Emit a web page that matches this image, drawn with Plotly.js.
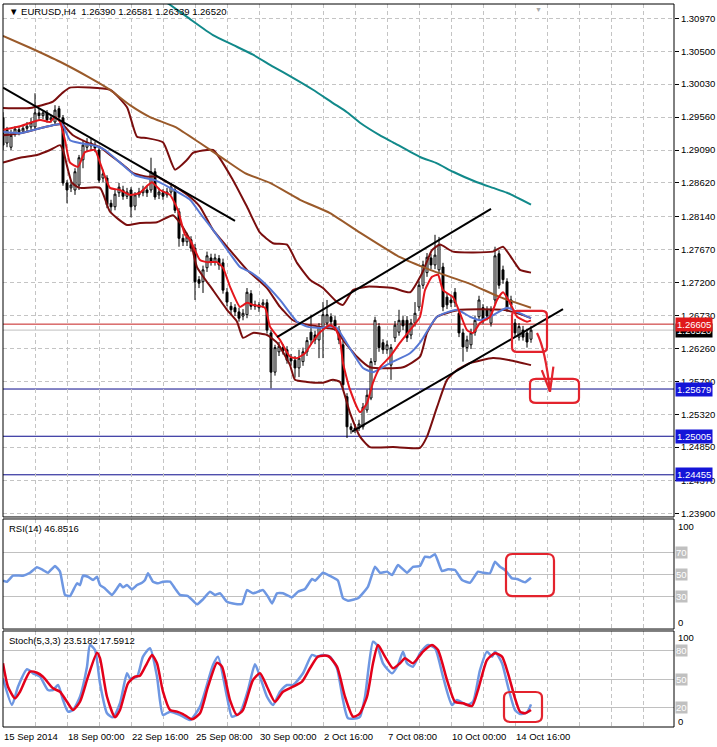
<!DOCTYPE html>
<html>
<head>
<meta charset="utf-8">
<script src="https://cdn.plot.ly/plotly-3.0.1.min.js"></script>
<style>html,body{margin:0;padding:0;background:#fff;}#chart{width:717px;height:747px;}</style>
</head>
<body>
<div id="chart"></div>
<script>
// ---------- DATA ----------
const symbolTitle = "▼ EURUSD,H4  1.26390 1.26581 1.26339 1.26520";
const rsiTitle = "RSI(14) 46.8516";
const stochTitle = "Stoch(5,3,3) 23.5182 17.5912";

// time axis: bar index -> label
const timeTickBars = [0, 16, 32, 48, 64, 80, 96, 112, 128];
const timeTickLabels = ["15 Sep 2014", "18 Sep 00:00", "22 Sep 16:00", "25 Sep 08:00", "30 Sep 00:00", "2 Oct 16:00", "7 Oct 08:00", "10 Oct 00:00", "14 Oct 16:00"];

const priceTicks = [1.30970,1.30500,1.30030,1.29560,1.29090,1.28620,1.28140,1.27670,1.27200,1.26730,1.26260,1.25790,1.25320,1.24850,1.24370,1.23900];

const open = [
1.2955,1.2919,1.2913,1.2933,1.2938,1.2936,1.2940,1.2942,1.2942,1.2962,
1.2958,1.2962,1.2952,1.2949,1.2968,1.2955,1.2862,1.2855,1.2852,1.2859,
1.2895,1.2913,1.2919,1.2915,1.2909,1.2869,1.2869,1.2833,1.2828,1.2848,
1.2852,1.2843,1.2852,1.2829,1.2845,1.2848,1.2852,1.2852,1.2878,1.2845,
1.2848,1.2845,1.2849,1.2852,1.2821,1.2783,1.2778,1.2781,1.2769,1.2724,
1.2721,1.2741,1.2755,1.2749,1.2754,1.2748,1.2706,1.2686,1.2684,1.2678,
1.2672,1.2674,1.2704,1.2686,1.2684,1.2688,1.2691,1.2648,1.2592,1.2621,
1.2627,1.2624,1.2612,1.2609,1.2598,1.2607,1.2621,1.2649,1.2645,1.2638,
1.2655,1.2662,1.2671,1.2666,1.2652,1.2631,1.2557,1.2514,1.2510,1.2512,
1.2514,1.2538,1.2555,1.2607,1.2657,1.2634,1.2624,1.2602,1.2641,1.2649,
1.2666,1.2666,1.2645,1.2662,1.2685,1.2716,1.2734,1.2755,1.2745,1.2738,
1.2742,1.2699,1.2695,1.2706,1.2676,1.2648,1.2627,1.2631,1.2649,1.2671,
1.2684,1.2681,1.2662,1.2695,1.2761,1.2738,1.2721,1.2695,1.2662,1.2642,
1.2652,1.2648,1.26390];
const high = [
1.2963,1.2942,1.2938,1.2943,1.2942,1.2945,1.2949,1.2955,1.2990,1.2969,
1.2966,1.2966,1.2959,1.2973,1.2972,1.2959,1.2866,1.2866,1.2883,1.2902,
1.2923,1.2926,1.2926,1.2921,1.2915,1.2881,1.2873,1.2838,1.2852,1.2862,
1.2858,1.2855,1.2856,1.2849,1.2855,1.2858,1.2858,1.2898,1.2883,1.2855,
1.2853,1.2855,1.2862,1.2858,1.2826,1.2789,1.2791,1.2786,1.2775,1.2729,
1.2744,1.2764,1.2761,1.2761,1.2759,1.2754,1.2712,1.2692,1.2689,1.2684,
1.2682,1.2712,1.2709,1.2694,1.2692,1.2696,1.2696,1.2652,1.2631,1.2635,
1.2632,1.2629,1.2618,1.2615,1.2624,1.2627,1.2642,1.2674,1.2651,1.2662,
1.2692,1.2695,1.2676,1.2672,1.2658,1.2637,1.2562,1.2519,1.2518,1.2524,
1.2548,1.2567,1.2612,1.2671,1.2662,1.2639,1.2637,1.2632,1.2665,1.2681,
1.2672,1.2672,1.2668,1.2692,1.2722,1.2751,1.2762,1.2761,1.2788,1.2785,
1.2748,1.2705,1.2701,1.2712,1.2682,1.2654,1.2644,1.2654,1.2672,1.2701,
1.2689,1.2686,1.2686,1.2771,1.2766,1.2744,1.2726,1.2701,1.2668,1.2662,
1.2658,1.2654,1.26581];
const low = [
1.2909,1.2913,1.2909,1.2928,1.2930,1.2933,1.2936,1.2938,1.2938,1.2952,
1.2953,1.2948,1.2948,1.2945,1.2952,1.2858,1.2833,1.2849,1.2845,1.2852,
1.2883,1.2906,1.2909,1.2906,1.2862,1.2863,1.2826,1.2821,1.2823,1.2842,
1.2838,1.2839,1.2813,1.2823,1.2841,1.2843,1.2842,1.2848,1.2838,1.2839,
1.2838,1.2841,1.2845,1.2819,1.2771,1.2772,1.2772,1.2764,1.2695,1.2712,
1.2705,1.2735,1.2744,1.2744,1.2738,1.2704,1.2686,1.2675,1.2672,1.2664,
1.2666,1.2669,1.2681,1.2681,1.2678,1.2684,1.2647,1.2569,1.2587,1.2615,
1.2617,1.2604,1.2601,1.2584,1.2585,1.2601,1.2615,1.2631,1.2632,1.2612,
1.2612,1.2657,1.2658,1.2651,1.2632,1.2567,1.2498,1.2504,1.2505,1.2508,
1.2510,1.2534,1.2552,1.2602,1.2621,1.2618,1.2618,1.2581,1.2635,1.2644,
1.2652,1.2635,1.2639,1.2657,1.2679,1.2711,1.2728,1.2739,1.2739,1.2732,
1.2679,1.2682,1.2685,1.2685,1.2642,1.2607,1.2621,1.2625,1.2644,1.2665,
1.2661,1.2666,1.2657,1.2689,1.2711,1.2718,1.2678,1.2682,1.2642,1.2637,
1.2637,1.2627,1.26339];
const close = [
1.2916,1.2938,1.2930,1.2939,1.2935,1.2940,1.2943,1.2948,1.2962,1.2958,
1.2962,1.2952,1.2955,1.2966,1.2956,1.2862,1.2852,1.2859,1.2878,1.2898,
1.2916,1.2919,1.2915,1.2912,1.2866,1.2875,1.2831,1.2828,1.2846,1.2856,
1.2843,1.2849,1.2828,1.2845,1.2849,1.2852,1.2848,1.2878,1.2842,1.2849,
1.2843,1.2849,1.2856,1.2823,1.2783,1.2778,1.2785,1.2769,1.2721,1.2719,
1.2738,1.2758,1.2749,1.2755,1.2745,1.2709,1.2692,1.2681,1.2678,1.2669,
1.2676,1.2706,1.2686,1.2688,1.2688,1.2691,1.2652,1.2592,1.2627,1.2629,
1.2622,1.2609,1.2608,1.2598,1.2612,1.2621,1.2637,1.2638,1.2638,1.2657,
1.2674,1.2674,1.2664,1.2657,1.2638,1.2574,1.2514,1.2510,1.2512,1.2518,
1.2542,1.2559,1.2607,1.2666,1.2627,1.2624,1.2631,1.2627,1.2659,1.2666,
1.2658,1.2641,1.2662,1.2676,1.2716,1.2745,1.2756,1.2745,1.2759,1.2774,
1.2685,1.2688,1.2691,1.2691,1.2648,1.2628,1.2638,1.2648,1.2666,1.2695,
1.2666,1.2672,1.2681,1.2758,1.2716,1.2724,1.2684,1.2688,1.2648,1.2657,
1.2642,1.2635,1.26520];

// indicator lines as [bar, value] pairs
const maTeal = [[36.75,1.3130],[41,1.3119],[46,1.3099],[52.5,1.3073],[57.5,1.3059],[62.5,1.3045],[67.5,1.3028],[72.5,1.3012],[77.5,1.2995],[82.5,1.2976],[86,1.2963],[89.25,1.2948],[94.25,1.2930],[97.5,1.2920],[104.25,1.2899],[108.5,1.2890],[112.5,1.2878],[118.5,1.2863],[122.5,1.2855],[126,1.2848],[132,1.2831]];
const maBrown = [[0,1.3072],[6.75,1.3055],[14.25,1.3035],[21.75,1.3012],[26.75,1.2995],[31.75,1.2973],[36.75,1.2956],[43,1.2942],[49.25,1.2919],[55.5,1.2895],[60.5,1.2876],[66.75,1.2862],[74.25,1.2838],[81.75,1.2819],[89.25,1.2791],[99.25,1.2756],[106.75,1.2738],[116.75,1.2718],[124.25,1.2699],[132,1.2684]];
const maBlue = [[0,1.2935],[4.25,1.2933],[9.25,1.2940],[13,1.2945],[14.75,1.2946],[16.75,1.2923],[19.25,1.2919],[23,1.2915],[25.5,1.2909],[29.25,1.2891],[33,1.2873],[35.5,1.2869],[38,1.2866],[41.75,1.2855],[46.75,1.2838],[49.25,1.2819],[52.5,1.2795],[56.75,1.2761],[59.25,1.2742],[61.75,1.2735],[65,1.2721],[69.25,1.2695],[73.5,1.2664],[76,1.2657],[79.25,1.2655],[81.75,1.2657],[83.5,1.2655],[85,1.2642],[87.5,1.2619],[90,1.2598],[92.5,1.2592],[96.75,1.2605],[101.75,1.2619],[104.25,1.2634],[108.5,1.2671],[113.5,1.2681],[116.75,1.2671],[119.25,1.2666],[121.75,1.2671],[126,1.2684],[128.5,1.2678],[132,1.2669]];
const maRed = [[0,1.2938],[4.25,1.2943],[9.25,1.2952],[11.75,1.2949],[13,1.2956],[14.25,1.2949],[15.5,1.2923],[16.75,1.2891],[18.75,1.2885],[20.5,1.2906],[23,1.2909],[24.25,1.2891],[26.75,1.2855],[29.25,1.2852],[31.75,1.2845],[34.25,1.2848],[36.25,1.2859],[37.25,1.2863],[39.25,1.2852],[41.75,1.2845],[43.75,1.2823],[45.5,1.2788],[46.75,1.2781],[49.25,1.2752],[51,1.2749],[53.5,1.2749],[55,1.2741],[56.75,1.2714],[59.25,1.2685],[61,1.2691],[62.5,1.2688],[65.5,1.2684],[66.75,1.2657],[69.25,1.2638],[71.75,1.2614],[73.5,1.2612],[75.5,1.2619],[77.25,1.2634],[79.25,1.2649],[81.75,1.2659],[83,1.2655],[84.25,1.2638],[85,1.2605],[86.75,1.2567],[89.25,1.2535],[91,1.2548],[92.5,1.2577],[94.25,1.2599],[96.75,1.2614],[99.25,1.2634],[101.75,1.2652],[104.25,1.2671],[105.5,1.2709],[107.25,1.2728],[108.75,1.2731],[110,1.2709],[112.5,1.2699],[114.25,1.2676],[116,1.2652],[117.5,1.2648],[119.25,1.2662],[121.75,1.2671],[123.5,1.2695],[125,1.2706],[126.75,1.2691],[128.5,1.2671],[131,1.2664],[132,1.2666]];
const bbUpper = [[0,1.2969],[6.75,1.2969],[12.5,1.2978],[14.75,1.2990],[16.75,1.2998],[26.75,1.2995],[31,1.2970],[33.5,1.2928],[36,1.2926],[40,1.2920],[43,1.2881],[46,1.2895],[47.5,1.2905],[52.5,1.2909],[57.5,1.2866],[61,1.2828],[64.25,1.2791],[67.5,1.2776],[71,1.2774],[73.5,1.2748],[76.75,1.2724],[80,1.2712],[83.5,1.2692],[85,1.2688],[87.5,1.2709],[91,1.2714],[97.5,1.2712],[101.75,1.2706],[104.75,1.2733],[107.25,1.2766],[109.25,1.2774],[112.5,1.2764],[122.5,1.2764],[125,1.2771],[127.5,1.2752],[129.25,1.2738],[132,1.2734]];
const bbMiddle = [[0,1.2930],[4.25,1.2933],[9.25,1.2940],[13,1.2945],[14.75,1.2946],[17.5,1.2930],[21,1.2920],[24.25,1.2913],[26.75,1.2902],[30,1.2888],[32.5,1.2876],[36,1.2871],[38.5,1.2871],[41,1.2863],[43.5,1.2855],[46.75,1.2842],[49.25,1.2828],[52.5,1.2795],[56.75,1.2766],[61,1.2738],[66,1.2712],[69.25,1.2685],[72.5,1.2666],[74.25,1.2662],[81,1.2655],[83.5,1.2652],[85,1.2638],[88.5,1.2614],[91.75,1.2599],[100,1.2599],[104.25,1.2614],[106,1.2648],[108.5,1.2671],[114.25,1.2681],[125,1.2681],[129.25,1.2675],[132,1.2669]];
const bbLower = [[0,1.2891],[4.25,1.2898],[8.5,1.2902],[11.75,1.2909],[14.25,1.2916],[15,1.2909],[17.25,1.2862],[19.25,1.2855],[24.25,1.2855],[26.75,1.2821],[31,1.2802],[34.25,1.2805],[38.5,1.2806],[42.5,1.2816],[44.25,1.2805],[46.75,1.2781],[48.5,1.2742],[52.5,1.2709],[56,1.2681],[58.5,1.2664],[60,1.2641],[62.5,1.2648],[66,1.2645],[68.5,1.2634],[71.75,1.2602],[73,1.2581],[76,1.2578],[80,1.2577],[82.5,1.2581],[84.25,1.2578],[86.75,1.2534],[89.25,1.2500],[91.75,1.2485],[97.5,1.2485],[104.25,1.2484],[106,1.2500],[108.5,1.2542],[111,1.2581],[113.5,1.2595],[116.75,1.2605],[122.5,1.2612],[126.75,1.2609],[132,1.2602]];

const rsi = [[0,44.2],[1,43.2],[2.5,48.8],[5,48.8],[6.75,51.5],[8.5,56.5],[10,54],[11.25,51.5],[13,57.7],[14.25,52.5],[15.5,31],[16.75,30],[18.5,41.7],[19.25,40],[20,48.8],[21.25,47.8],[22.5,44.8],[23.5,47.8],[24.25,40.2],[25.5,37],[27.25,31],[28.5,37],[29.25,41],[30,38],[31,40.2],[32.25,36.2],[33.5,40.2],[34.75,42.3],[35.5,44.8],[36.25,51],[37.5,43.2],[38.75,41.7],[40,43.2],[41.75,43.2],[43,37],[44.25,31],[46.25,30],[48.5,22.3],[50,27],[51.75,34],[53,31],[54.25,32.5],[56,24.7],[57.5,23.2],[59.75,22.6],[61,35.5],[62.5,32.5],[65,35.5],[66.25,29.4],[67.25,23.2],[68.5,32.5],[70,32.5],[72.25,28.8],[73.75,34],[75.5,36.5],[77.25,45.7],[78,44.2],[80,51.5],[81.75,48.5],[83.75,44.2],[85,27.9],[86.25,25.7],[88.75,27.9],[91.25,38.6],[93,57],[94.25,51.5],[96,52.5],[97.25,49.4],[98.75,58.6],[101,51.5],[102.5,57],[104.25,57.7],[105.5,66.3],[106.75,65.7],[108,68.5],[109.75,53.1],[111.25,54.7],[113,54],[114.75,44.8],[116.75,42.3],[118.75,52.5],[120,51.5],[121.75,51],[123,61.7],[124.25,57],[125.5,54],[127.25,46.3],[128.5,45.7],[130.5,42.7],[132,46.85]];
const stochMain = [[0,51],[2.25,22.9],[3.75,42.2],[6,60.6],[7.5,56.4],[9.25,52.8],[11.25,38.7],[12.5,38.7],[13.75,44],[15,28.1],[16.25,15.8],[17.5,17.6],[19.25,31.6],[21,63.4],[21.75,86.3],[23,81],[24.25,45.8],[26,14.1],[27.5,9.8],[29.25,24.7],[31,56.4],[31.75,51.1],[33.5,52.8],[35,74],[36.75,82.9],[38.5,52.8],[40,12.3],[41.75,15.8],[44.25,12.3],[46.75,7],[49.25,21.1],[52.5,65.2],[53.75,74],[56,31.6],[57.25,10.5],[59.25,14.7],[61.25,38.7],[63,65.9],[64.25,52.8],[66,31.6],[67.5,22.9],[69.25,36.9],[71,44],[72.5,44],[75,56.4],[77.25,75.8],[78.5,74],[79.75,75.8],[81.75,74],[83.5,61.7],[85,28.1],[86.25,8.8],[88.5,8.8],[89.25,10.5],[90.5,31.6],[92.5,89.8],[93.5,86.3],[95,67],[97.25,56.4],[98.75,65.2],[100,79.3],[101,67],[102.5,63.4],[104.25,77.6],[106.25,86.3],[108,82.9],[110,52.8],[112.25,22.9],[113.5,28.1],[116,22.9],[117.5,26.3],[119.25,59.9],[121,79.3],[122.25,74],[123,79.3],[124.75,67],[126.25,42.2],[128,17.6],[129.25,13.3],[131,15.1],[132,23.5]];
const stochSignal = [[0,67],[1.25,42.2],[3,29.9],[4.25,36.9],[6.75,58.1],[8.5,57],[10,52.8],[12.5,40.5],[14.25,36.9],[16,26.3],[17.5,17.6],[19.25,26.3],[21.25,52.8],[23.5,78.2],[24.25,72.3],[26,31.6],[28,9.8],[29.25,17.6],[31.25,45.8],[33,52.8],[34.25,53.9],[36,67],[37.25,75.8],[38.5,67],[40,36.9],[41.75,17.6],[43.5,15.8],[45,13.3],[47.25,7.7],[49.25,14.1],[51.25,42.2],[53.5,67.6],[54.75,63.4],[56.75,28.1],[58.5,12.3],[60,17.6],[62.5,49.3],[64.25,56.4],[66,42.2],[68,26.3],[70,36.9],[72.5,42.2],[74.75,47.5],[76.75,61.7],[78.75,74],[81.25,74.7],[83.5,63.4],[85.5,31.6],[87.5,10.5],[88.75,12.3],[89.25,14.1],[91,31.6],[92.5,67],[93.75,86.3],[95.5,74],[97.5,61.7],[99.25,67],[100.5,72.3],[102.5,67],[105,79.3],[107.25,86.3],[108.75,81],[111,49.3],[113,26.3],[115,24.7],[117.25,21.8],[118.75,38.7],[121,70.5],[123,77.6],[124.75,74],[126.25,56.4],[128,29.9],[129.25,15.8],[130.5,14.1],[132,17.6]];

// drawn objects (bar, price)
const trendLines = [[0,1.2998,58,1.2808],[68.5,1.2642,122,1.2825],[87.25,1.2507,140,1.2682]];
const redLevel = 1.26605;
const bidLevel = 1.26520;
const blueLevels = [1.25679, 1.25005, 1.24455];
const rsiLevels = [70, 50, 30];
const stochLevels = [80, 50, 20];

// ---------- BUILD ----------
const bars = open.map((_, i) => i);
const xs = a => a.map(p => p[0]);
const ys = a => a.map(p => p[1]);

function lineTrace(pts, color, width, yaxis, smooth) {
  return {type:'scatter', mode:'lines', x:xs(pts), y:ys(pts), xaxis:'x', yaxis:yaxis||'y',
    line:{color:color, width:width, shape: smooth ? 'spline' : 'linear', smoothing: smooth || 0},
    hoverinfo:'skip', cliponaxis:true};
}

const traces = [
  {type:'candlestick', x:bars, open:open, high:high, low:low, close:close, xaxis:'x', yaxis:'y',
   increasing:{line:{color:'#000', width:1}, fillcolor:'#ffffff'},
   decreasing:{line:{color:'#000', width:1}, fillcolor:'#000000'},
   whiskerwidth:0, hoverinfo:'skip'},
  lineTrace(bbUpper, '#7a0e0e', 2, 'y', 0.5),
  lineTrace(bbMiddle, '#7a0e0e', 2, 'y', 0.5),
  lineTrace(bbLower, '#7a0e0e', 2, 'y', 0.5),
  lineTrace(maTeal, '#11898a', 2, 'y', 0.5),
  lineTrace(maBrown, '#9a5a2a', 2, 'y', 0.5),
  lineTrace(maBlue, '#5677d4', 2, 'y', 0.5),
  lineTrace(maRed, '#e4161c', 2, 'y', 0.5),
  lineTrace(rsi, '#6e97e2', 2.5, 'y2', 0.4),
  lineTrace(stochMain, '#6e97e2', 2.5, 'y3', 0.6),
  lineTrace(stochSignal, '#e3001a', 2.5, 'y3', 0.6)
];

function roundRect(x0, x1, y0, y1, rx, ry) {
  return `M${x0+rx},${y1} L${x1-rx},${y1} Q${x1},${y1} ${x1},${y1-ry} L${x1},${y0+ry} Q${x1},${y0} ${x1-rx},${y0} ` +
         `L${x0+rx},${y0} Q${x0},${y0} ${x0},${y0+ry} L${x0},${y1-ry} Q${x0},${y1} ${x0+rx},${y1} Z`;
}
const annoRed = '#e3232d';
const shapes = [];
// level lines
shapes.push({type:'line', xref:'x domain', x0:0, x1:1, yref:'y', y0:bidLevel, y1:bidLevel, line:{color:'#c0c0c0', width:1}, layer:'below'});
shapes.push({type:'line', xref:'x domain', x0:0, x1:1, yref:'y', y0:redLevel, y1:redLevel, line:{color:'#c41e1e', width:1}, layer:'below'});
blueLevels.forEach(v => shapes.push({type:'line', xref:'x domain', x0:0, x1:1, yref:'y', y0:v, y1:v, line:{color:'#0a0a8c', width:1}, layer:'below'}));
// trend lines
trendLines.forEach(t => shapes.push({type:'line', xref:'x', yref:'y', x0:t[0], y0:t[1], x1:t[2], y1:t[3], line:{color:'#000', width:2}, layer:'above'}));
// red hand-drawn marks
shapes.push({type:'path', xref:'x', yref:'y', path:roundRect(127.25, 136, 1.26208, 1.26793, 1.2, 0.0007), line:{color:annoRed, width:2.2}, layer:'above'});
shapes.push({type:'path', xref:'x', yref:'y', path:roundRect(131.75, 144, 1.25480, 1.25823, 1.5, 0.0007), line:{color:annoRed, width:2.2}, layer:'above'});
shapes.push({type:'path', xref:'x', yref:'y', path:'M133.5,1.26479 Q135.6,1.2624 136.75,1.25641', line:{color:annoRed, width:2.2}, layer:'above'});
shapes.push({type:'path', xref:'x', yref:'y', path:'M134.7,1.2595 L136.75,1.25641 L137.6,1.2600', line:{color:annoRed, width:2.2}, layer:'above'});
shapes.push({type:'path', xref:'x', yref:'y2', path:roundRect(125.75, 137.75, 30.0, 68.8, 1.6, 6), line:{color:annoRed, width:2.2}, layer:'above'});
shapes.push({type:'path', xref:'x', yref:'y3', path:roundRect(125.25, 134.75, 4.9, 36.6, 1.6, 6), line:{color:annoRed, width:2.2}, layer:'above'});
// panel frames
['y','y2','y3'].forEach(a => shapes.push({type:'rect', xref:'x domain', yref:a+' domain', x0:0, x1:1, y0:0, y1:1, line:{color:'#000', width:1}, fillcolor:'rgba(0,0,0,0)', layer:'above'}));

const annotations = [];
const F = '"Liberation Sans", Arial, sans-serif';
annotations.push({xref:'paper', yref:'paper', x:0.006, y:0.989, xanchor:'left', yanchor:'middle', text:symbolTitle, showarrow:false, font:{size:9.5, color:'#000', family:F}});
annotations.push({xref:'paper', yref:'paper', x:0.006, y:0.2739, xanchor:'left', yanchor:'middle', text:rsiTitle, showarrow:false, font:{size:9.5, color:'#000', family:F}});
annotations.push({xref:'paper', yref:'paper', x:0.006, y:0.1203, xanchor:'left', yanchor:'middle', text:stochTitle, showarrow:false, font:{size:9.5, color:'#000', family:F}});
// shift marker
annotations.push({xref:'x', yref:'paper', x:133.75, y:1, xanchor:'center', yanchor:'top', text:'▼', showarrow:false, font:{size:7, color:'#a8a8a8'}});
// time labels
timeTickBars.forEach((b, i) => annotations.push({xref:'x', yref:'paper', x:b, y:0, xanchor:'left', yanchor:'top', yshift:-2, xshift:-1, text:timeTickLabels[i], showarrow:false, font:{size:9.5, color:'#000', family:F}}));
// right price labels
function priceLabel(v, bg) {
  return {xref:'paper', yref:'y', x:1, y:v, xanchor:'left', yanchor:'middle', xshift:1, text:v.toFixed(5), showarrow:false, bgcolor:bg, borderpad:1, font:{size:9.5, color:'#fff', family:F}};
}
annotations.push(priceLabel(bidLevel, '#000000'));
annotations.push(priceLabel(redLevel, '#e0191b'));
blueLevels.forEach(v => annotations.push(priceLabel(v, '#1414d8')));
// indicator scales
function levelLabel(v, ax) {
  return {xref:'paper', yref:ax, x:1, y:v, xanchor:'left', yanchor:'middle', xshift:1, text:String(v), showarrow:false, bgcolor:'#c0c0c0', borderpad:0, font:{size:9.5, color:'#fff', family:F}};
}
function plainLabel(v, pos, ax) {
  return {xref:'paper', yref:ax, x:1, y:pos, xanchor:'left', yanchor:'middle', xshift:2, text:String(v), showarrow:false, font:{size:9.5, color:'#000', family:F}};
}
rsiLevels.forEach(v => annotations.push(levelLabel(v, 'y2')));
stochLevels.forEach(v => annotations.push(levelLabel(v, 'y3')));
annotations.push(plainLabel(100, 94.6, 'y2'));
annotations.push(plainLabel(0, 5.4, 'y2'));
annotations.push(plainLabel(100, 93.8, 'y3'));
annotations.push(plainLabel(0, 5.9, 'y3'));

const layout = {
  width:717, height:747,
  margin:{l:3, r:43, t:4, b:20, pad:0},
  paper_bgcolor:'#ffffff', plot_bgcolor:'#ffffff',
  showlegend:false, hovermode:false, dragmode:false,
  font:{family:F, size:9.5, color:'#000'},
  xaxis:{range:[0, 167.75], anchor:'y3', showgrid:true, tick0:0, dtick:8, gridcolor:'#c4c4c4', griddash:'4px,3px', gridwidth:1,
         showticklabels:false, ticks:'', zeroline:false, showline:false, rangeslider:{visible:false}, fixedrange:true},
  yaxis:{domain:[0.2905, 1], range:[1.23853, 1.31174], side:'right', anchor:'x', tickmode:'array', tickvals:priceTicks, tickformat:'.5f',
         ticks:'outside', ticklen:4, tickcolor:'#000', showgrid:true, gridcolor:'#c4c4c4', griddash:'4px,3px', zeroline:false, showline:false,
         tickfont:{size:9.5, family:F}, fixedrange:true},
  yaxis2:{domain:[0.1355, 0.2877], range:[-0.46, 101.1], anchor:'x', tickmode:'array', tickvals:rsiLevels, showticklabels:false, ticks:'',
          showgrid:true, gridcolor:'#c0c0c0', gridwidth:1, zeroline:false, showline:false, fixedrange:true},
  yaxis3:{domain:[0, 0.1328], range:[-0.42, 101.16], anchor:'x', tickmode:'array', tickvals:stochLevels, showticklabels:false, ticks:'',
          showgrid:true, gridcolor:'#c0c0c0', gridwidth:1, zeroline:false, showline:false, fixedrange:true},
  shapes:shapes,
  annotations:annotations
};

Plotly.newPlot('chart', traces, layout, {displayModeBar:false, staticPlot:true});
</script>
</body>
</html>
